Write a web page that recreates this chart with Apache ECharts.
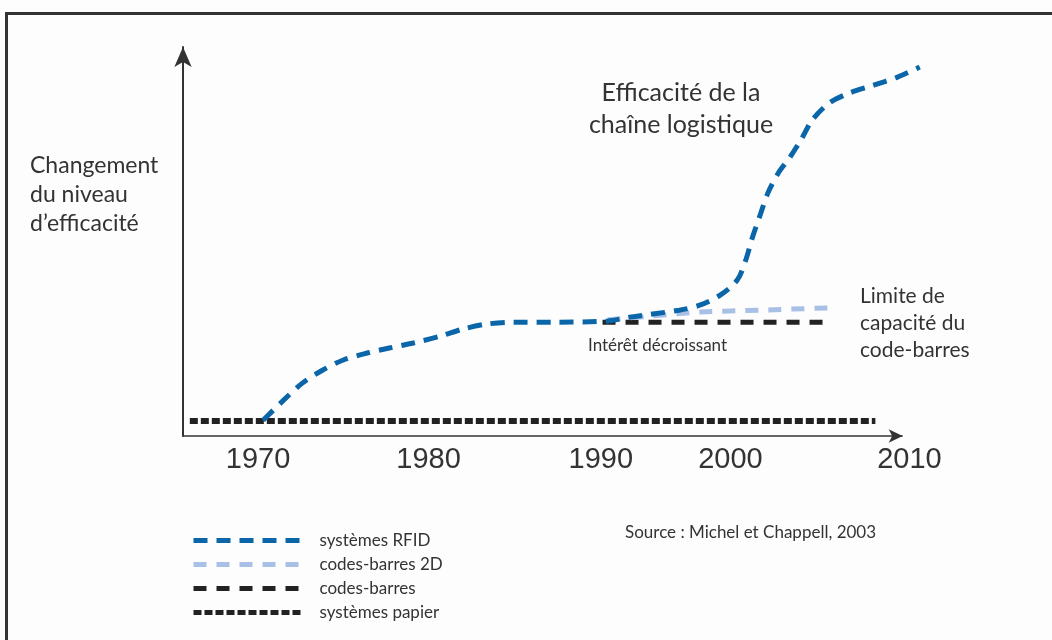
<!DOCTYPE html>
<html>
<head>
<meta charset="utf-8">
<script src="https://cdn.jsdelivr.net/npm/echarts@6/dist/echarts.min.js"></script>
<style>
  html, body { margin: 0; padding: 0; background: #fdfdfd; }
  .frame {
    position: absolute;
    left: 5px;
    top: 12px;
    width: 1100px;
    height: 700px;
    border-top: 3px solid #333;
    border-left: 3px solid #333;
  }
  #chart { position: absolute; left: 0; top: 0; width: 1052px; height: 640px; }
</style>
</head>
<body>
<div class="frame"></div>
<div id="chart"></div>
<script>
// x values are years on a linear scale; y is a relative efficiency level (0-100)
const rfid = [
  [1970.2, 4.1], [1971.4, 9.3], [1972.5, 13.7], [1973.7, 17.1], [1974.9, 19.7],
  [1976.3, 21.5], [1977.6, 22.8], [1979.0, 24.1], [1980.6, 25.9], [1981.9, 27.7],
  [1983.3, 29.0], [1984.9, 29.5], [1987.4, 29.5], [1990.4, 29.8], [1991.7, 30.8],
  [1994.6, 32.6], [1995.8, 33.9], [1997.0, 36.5], [1998.0, 40.4], [1998.5, 45.6],
  [1998.9, 51.6], [1999.3, 56.7], [1999.8, 63.0], [2000.4, 68.1], [2001.1, 72.3],
  [2001.8, 77.2], [2002.4, 81.9], [2003.4, 86.3], [2004.6, 88.9], [2006.0, 90.9],
  [2007.4, 93.0], [2008.7, 95.6]
]
const barcode2d = [[1990.4, 30.1], [1993.0, 31.1], [1995.8, 32.1], [1999.3, 32.6], [2003.3, 33.2]]
const barcode = [[1990.1, 29.5], [2003.4, 29.5]]
const paper = [[1965.9, 3.9], [2006.1, 3.9]]

const xTickPos = [1969.9, 1979.9, 1990.0, 1997.6, 2008.1]
const xTickLabels = ['1970', '1980', '1990', '2000', '2010']
const xMin = 1965.5
const xMax = 2012
const xArrowEnd = 2007.7

const seriesNames = ['systèmes RFID', 'codes-barres 2D', 'codes-barres', 'systèmes papier']

const font = 'Lato, "Open Sans", sans-serif'
const chart = echarts.init(document.getElementById('chart'))

chart.setOption({
  animation: false,
  grid: { left: 183, right: 76, top: 47, bottom: 204 },
  legend: {
    data: seriesNames,
    orient: 'vertical',
    left: 186,
    top: 527,
    itemWidth: 108,
    itemHeight: 8,
    itemGap: 7,
    itemStyle: { opacity: 0 },
    lineStyle: { width: 5 },
    textStyle: { fontFamily: font, fontSize: 17, color: '#333', padding: [0, 0, 0, 13] }
  },
  xAxis: {
    type: 'value',
    min: xMin,
    max: xMax,
    axisLine: { show: false },
    axisTick: { show: false },
    splitLine: { show: false },
    axisLabel: {
      customValues: xTickPos,
      formatter: (v) => xTickLabels[xTickPos.indexOf(v)] ?? '',
      margin: 9,
      fontFamily: '"Liberation Sans", Arial, sans-serif',
      fontSize: 29,
      color: '#333'
    }
  },
  yAxis: {
    type: 'value',
    min: 0,
    max: 100.8,
    axisLine: {
      show: true,
      symbol: ['none', 'arrow'],
      symbolSize: [13, 20],
      lineStyle: { color: '#333', width: 2 }
    },
    axisTick: { show: false },
    axisLabel: { show: false },
    splitLine: { show: false }
  },
  graphic: [
    {
      type: 'text', left: 30, top: 151,
      style: { text: 'Changement\ndu niveau\nd\u2019efficacité', font: '23px ' + font, fill: '#333', lineHeight: 29 }
    },
    {
      type: 'text', x: 681, y: 77,
      style: { text: 'Efficacité de la\nchaîne logistique', font: '25px ' + font, fill: '#333', lineHeight: 32, align: 'center' }
    },
    {
      type: 'text', left: 860, top: 283,
      style: { text: 'Limite de\ncapacité du\ncode-barres', font: '21px ' + font, fill: '#333', lineHeight: 27 }
    },
    {
      type: 'text', left: 588, top: 337,
      style: { text: 'Intérêt décroissant', font: '17px ' + font, fill: '#333' }
    },
    {
      type: 'text', left: 625, top: 524,
      style: { text: 'Source : Michel et Chappell, 2003', font: '17px ' + font, fill: '#333' }
    }
  ],
  series: [
    {
      name: 'systèmes papier',
      type: 'line',
      symbol: 'none',
      clip: false,
      lineStyle: { color: '#222', width: 6, type: [8, 3] },
      data: paper,
      markLine: {
        silent: true,
        symbol: ['none', 'arrow'],
        symbolSize: [10, 14],
        label: { show: false },
        lineStyle: { color: '#333', width: 1.5, type: 'solid' },
        emphasis: { disabled: true },
        data: [[{ coord: [xMin, 0] }, { coord: [xArrowEnd, 0] }]]
      }
    },
    {
      name: 'codes-barres',
      type: 'line',
      symbol: 'none',
      lineStyle: { color: '#222', width: 5, type: [13, 10] },
      data: barcode
    },
    {
      name: 'codes-barres 2D',
      type: 'line',
      symbol: 'none',
      smooth: 0.3,
      lineStyle: { color: '#a9c0e6', width: 5, type: [13, 10] },
      data: barcode2d
    },
    {
      name: 'systèmes RFID',
      type: 'line',
      symbol: 'none',
      smooth: 0.3,
      lineStyle: { color: '#0a66a8', width: 5, type: [14, 9] },
      data: rfid
    }
  ]
})
</script>
</body>
</html>
